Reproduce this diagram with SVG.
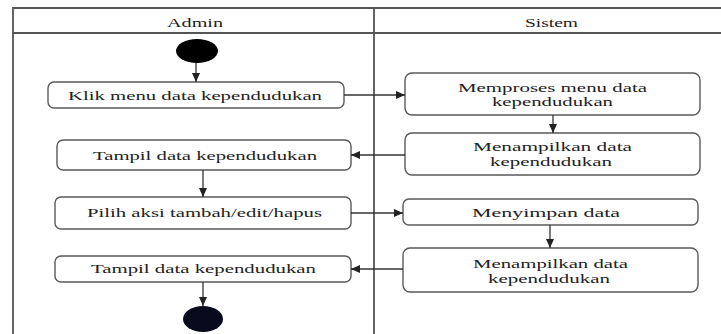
<svg xmlns="http://www.w3.org/2000/svg" width="721" height="334" viewBox="0 0 721 334">
<style>
.lane{fill:none;stroke:#555;stroke-width:1.8}
.box{fill:#fff;stroke:#5a5a5a;stroke-width:1.4}
.t{font-family:"Liberation Serif","Times New Roman",serif;font-size:12.5px;fill:#222}
.c{fill:none;stroke:#333;stroke-width:1.3}
</style>
<defs>
<marker id="ah" markerUnits="userSpaceOnUse" markerWidth="9" markerHeight="8" refX="9" refY="4" orient="auto">
<path d="M0,0 L9,4 L0,8 Z" fill="#222"/>
</marker>
</defs>
<rect width="721" height="334" fill="#fff"/>
<g id="swimlanes">
<path class="lane" d="M13,334 V8 H721 M13,33 H721 M374,8 V334"/>
<text class="t" x="167" y="27" textLength="56" lengthAdjust="spacingAndGlyphs">Admin</text>
<text class="t" x="525" y="27" textLength="53" lengthAdjust="spacingAndGlyphs">Sistem</text>
</g>
<g id="start"><ellipse cx="197" cy="51" rx="21" ry="12" fill="#000"/></g>
<g id="klik">
<rect class="box" x="48" y="82" width="296" height="26" rx="6"/>
<text class="t" x="68" y="100" textLength="254" lengthAdjust="spacingAndGlyphs">Klik  menu data kependudukan</text>
</g>
<g id="memproses">
<rect class="box" x="405" y="73" width="295" height="42" rx="7"/>
<text class="t" x="458" y="92" textLength="189" lengthAdjust="spacingAndGlyphs">Memproses menu data</text>
<text class="t" x="492" y="106" textLength="121" lengthAdjust="spacingAndGlyphs">kependudukan</text>
</g>
<g id="menampilkan1">
<rect class="box" x="405" y="133" width="295" height="42" rx="7"/>
<text class="t" x="473" y="151" textLength="159" lengthAdjust="spacingAndGlyphs">Menampilkan data</text>
<text class="t" x="490" y="166" textLength="122" lengthAdjust="spacingAndGlyphs">kependudukan</text>
</g>
<g id="tampil1">
<rect class="box" x="57" y="140" width="294" height="30" rx="6"/>
<text class="t" x="93" y="160" textLength="224" lengthAdjust="spacingAndGlyphs">Tampil data kependudukan</text>
</g>
<g id="pilih">
<rect class="box" x="55" y="197" width="296" height="32" rx="6"/>
<text class="t" x="87" y="217" textLength="235" lengthAdjust="spacingAndGlyphs">Pilih  aksi tambah/edit/hapus</text>
</g>
<g id="menyimpan">
<rect class="box" x="403" y="199" width="295" height="26" rx="6"/>
<text class="t" x="472" y="217" textLength="148" lengthAdjust="spacingAndGlyphs">Menyimpan data</text>
</g>
<g id="menampilkan2">
<rect class="box" x="403" y="248" width="295" height="44" rx="7"/>
<text class="t" x="473" y="268" textLength="155" lengthAdjust="spacingAndGlyphs">Menampilkan data</text>
<text class="t" x="488" y="283" textLength="122" lengthAdjust="spacingAndGlyphs">kependudukan</text>
</g>
<g id="tampil2">
<rect class="box" x="55" y="256" width="296" height="26" rx="6"/>
<text class="t" x="91" y="273" textLength="225" lengthAdjust="spacingAndGlyphs">Tampil data kependudukan</text>
</g>
<g id="end"><ellipse cx="203" cy="319" rx="20" ry="13" fill="#0a0a1e"/></g>
<g id="connectors">
<path class="c" d="M196,63 V82" marker-end="url(#ah)"/>
<path class="c" d="M344,95 H405" marker-end="url(#ah)"/>
<path class="c" d="M553,115 V133" marker-end="url(#ah)"/>
<path class="c" d="M405,155 H351" marker-end="url(#ah)"/>
<path class="c" d="M203,170 V197" marker-end="url(#ah)"/>
<path class="c" d="M351,213 H403" marker-end="url(#ah)"/>
<path class="c" d="M550,225 V248" marker-end="url(#ah)"/>
<path class="c" d="M403,269 H351" marker-end="url(#ah)"/>
<path class="c" d="M203,282 V306" marker-end="url(#ah)"/>
</g>
</svg>
